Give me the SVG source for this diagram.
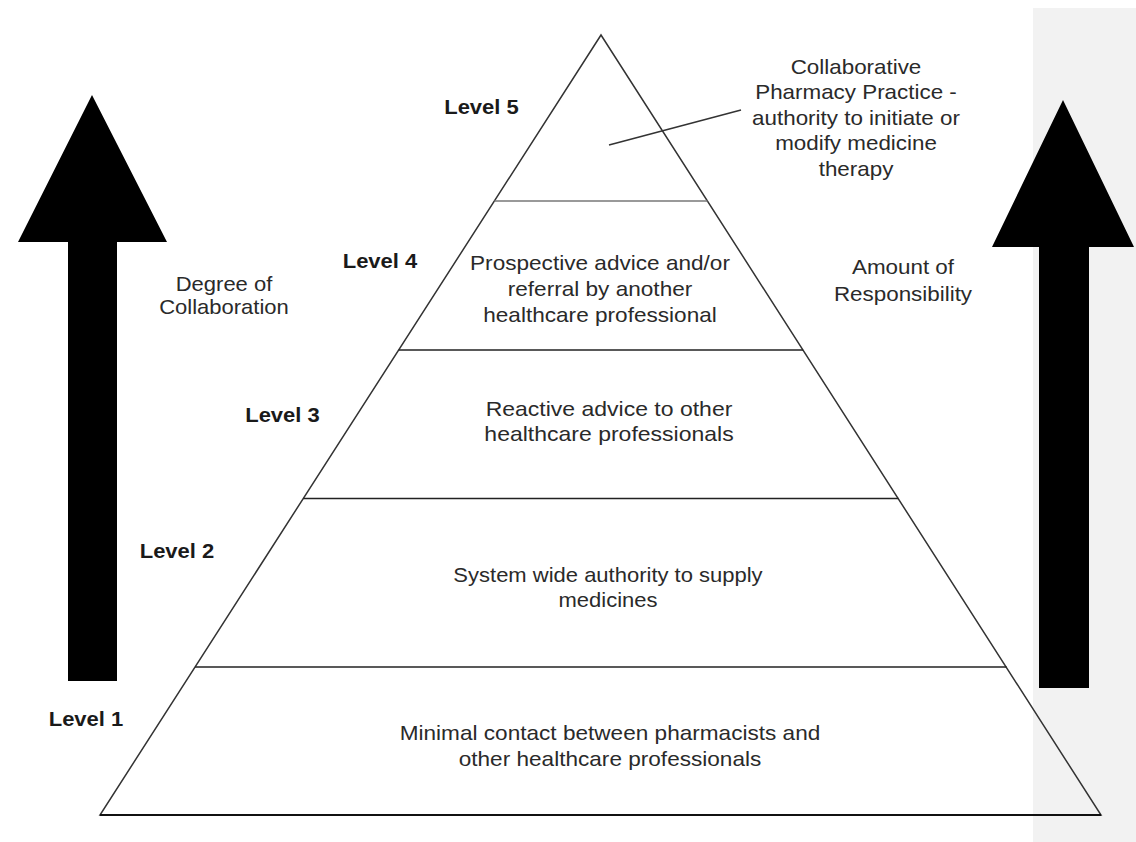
<svg xmlns="http://www.w3.org/2000/svg" width="1136" height="842" viewBox="0 0 1136 842">
<style>
.t{font-family:"Liberation Sans",Arial,sans-serif;font-size:20px;fill:#2a2a2a;text-anchor:middle}
.lv{font-family:"Liberation Sans",Arial,sans-serif;font-size:20px;font-weight:bold;fill:#1a1a1a;text-anchor:middle}
.edge{fill:none;stroke:#333;stroke-width:1.5}
.div{stroke:#222;stroke-width:1.6}
.arrow{fill:#000}
</style>
<rect x="0" y="0" width="1136" height="842" fill="#fff"/>
<rect id="side-panel" x="1033" y="8" width="103" height="834" fill="#f2f2f2"/>

<g id="arrow-collaboration">
<polygon class="arrow" points="92,95 167,242 117,242 117,681 68,681 68,242 18,242"/>
<text class="t" transform="translate(224 291) scale(1.1 1)"><tspan x="0" dy="0">Degree of</tspan><tspan x="0" dy="23">Collaboration</tspan></text>
</g>

<g id="arrow-responsibility">
<polygon class="arrow" points="1063,100 1134,247 1089,247 1089,688 1039,688 1039,247 992,247"/>
<text class="t" transform="translate(903 274) scale(1.12 1)"><tspan x="0" dy="0">Amount of</tspan><tspan x="0" dy="27">Responsibility</tspan></text>
</g>

<g id="pyramid">
<polygon class="edge" points="601,35 1101,815 100,815"/>
<line x1="100" y1="815" x2="1101" y2="815" stroke="#111" stroke-width="2"/>
</g>

<g id="level-5">
<line x1="494.4" y1="201" x2="707.5" y2="201" stroke="#777" stroke-width="1.6"/>
<text class="lv" transform="translate(481.5 114) scale(1.1 1)">Level 5</text>
<text class="t" transform="translate(856 74) scale(1.12 1)"><tspan x="0" dy="0">Collaborative</tspan><tspan x="0" dy="25.5">Pharmacy Practice -</tspan><tspan x="0" dy="25.5">authority to initiate or</tspan><tspan x="0" dy="25.5">modify medicine</tspan><tspan x="0" dy="25.5">therapy</tspan></text>
</g>

<g id="level-4">
<line class="div" x1="398.7" y1="350" x2="803.1" y2="350"/>
<text class="lv" transform="translate(380 268) scale(1.1 1)">Level 4</text>
<text class="t" transform="translate(600 270) scale(1.13 1)"><tspan x="0" dy="0">Prospective advice and/or</tspan><tspan x="0" dy="26">referral by another</tspan><tspan x="0" dy="26">healthcare professional</tspan></text>
</g>

<g id="level-3">
<line class="div" x1="303.3" y1="498.5" x2="898.4" y2="498.5"/>
<text class="lv" transform="translate(282.5 422) scale(1.1 1)">Level 3</text>
<text class="t" transform="translate(609 416) scale(1.15 1)"><tspan x="0" dy="0">Reactive advice to other</tspan><tspan x="0" dy="25">healthcare professionals</tspan></text>
</g>

<g id="level-2">
<line class="div" x1="195.1" y1="667" x2="1006.6" y2="667"/>
<text class="lv" transform="translate(177 558) scale(1.1 1)">Level 2</text>
<text class="t" transform="translate(608 582) scale(1.1 1)"><tspan x="0" dy="0">System wide authority to supply</tspan><tspan x="0" dy="25">medicines</tspan></text>
</g>

<g id="level-1">
<text class="lv" transform="translate(86 726) scale(1.1 1)">Level 1</text>
<text class="t" transform="translate(610 740) scale(1.13 1)"><tspan x="0" dy="0">Minimal contact between pharmacists and</tspan><tspan x="0" dy="26">other healthcare professionals</tspan></text>
</g>

<g id="connectors">
<line x1="609" y1="145" x2="741" y2="110" stroke="#333" stroke-width="1.5"/>
</g>
</svg>
